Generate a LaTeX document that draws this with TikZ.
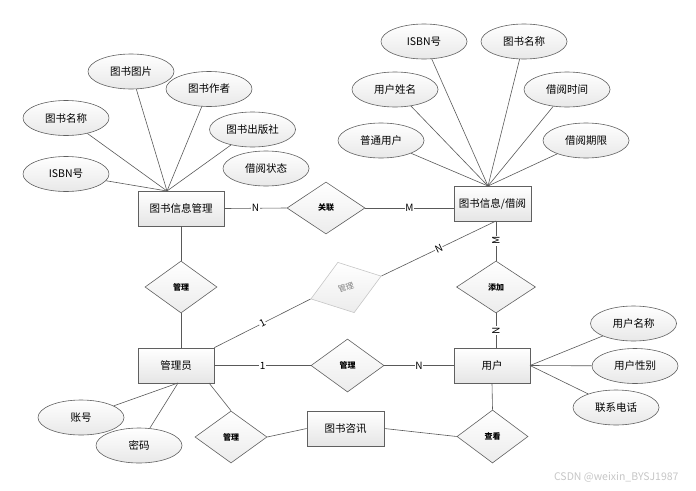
\documentclass[tikz,border=0pt]{standalone}
\usepackage{fontspec}
\setmainfont{Noto Sans CJK SC}
\usetikzlibrary{shapes.geometric,shadows}
\begin{document}
\begin{tikzpicture}[x=1pt,y=-1pt,
 ent/.style={rectangle, draw=gray!75!black, line width=0.7pt, top color=white, bottom color=gray!20, minimum width=77pt, minimum height=35pt, inner sep=0pt, font=\fontsize{10.5}{12}\selectfont, drop shadow={shadow xshift=1pt,shadow yshift=-1pt,fill=gray!45}},
 attr/.style={ellipse, draw=gray!75!black, line width=0.6pt, top color=white, bottom color=gray!18, minimum width=86pt, minimum height=35pt, inner sep=0pt, font=\fontsize{10.5}{12}\selectfont},
 rel/.style={diamond, draw=gray!75!black, line width=0.6pt, top color=white, bottom color=gray!15, minimum width=72pt, minimum height=52pt, inner sep=0pt, font=\fontsize{8}{9}\selectfont\bfseries},
 conn/.style={draw=gray!70!black, line width=0.6pt},
 card/.style={fill=white, inner sep=0.6pt, font=\fontsize{10}{11}\selectfont}
]
\path[use as bounding box] (0,0) rectangle (696,490);

% entities
\node[ent, minimum width=86pt] (gm) at (181,208.5) {图书信息管理};
\node[ent] (jy) at (492.5,203.5) {图书信息/借阅};
\node[ent, minimum width=76pt] (gly) at (176,365.5) {管理员};
\node[ent, minimum width=76pt] (yh) at (492,365.5) {用户};
\node[ent] (zx) at (345.5,428.5) {图书咨讯};

% relations
\node[rel, minimum width=78pt] (gl) at (326,208) {关联};
\node[rel] (r1) at (181,287) {管理};
\node[rel, minimum width=79pt] (tj) at (496,287) {添加};
\node[rel, minimum width=73pt, minimum height=53pt] (r2) at (347.5,365.5) {管理};
\node[rel] (r3) at (231,437) {管理};
\node[rel, minimum width=71pt, minimum height=53pt] (ck) at (492.5,436.5) {查看};
\node[rel, draw=gray!45, minimum width=74pt, minimum height=53pt, rotate=18, text=gray, font=\fontsize{8}{9}\selectfont] (r4) at (346,287.5) {管理};

% attributes
\node[attr] (a1) at (131,71.5) {图书图片};
\node[attr] (a2) at (209,89) {图书作者};
\node[attr] (a3) at (66,118) {图书名称};
\node[attr] (a4) at (252.5,129.5) {图书出版社};
\node[attr] (a5) at (66,174) {ISBN号};
\node[attr] (a6) at (266,168.5) {借阅状态};

\node[attr] (b1) at (424,41.5) {ISBN号};
\node[attr] (b2) at (524,41.5) {图书名称};
\node[attr] (b3) at (395,89.5) {用户姓名};
\node[attr] (b4) at (567,89.5) {借阅时间};
\node[attr] (b5) at (381,140.5) {普通用户};
\node[attr] (b6) at (586,140.5) {借阅期限};

\node[attr] (c1) at (81,417.5) {账号};
\node[attr] (c2) at (139,445.5) {密码};

\node[attr] (d1) at (633.5,323.5) {用户名称};
\node[attr] (d2) at (635,366) {用户性别};
\node[attr] (d3) at (616,407.5) {联系电话};

% hubs
\coordinate (h1) at (167,191);
\coordinate (h2) at (488,186);
\coordinate (h3) at (178,383);
\coordinate (h4) at (530,365.5);
\coordinate (jyb) at (496,221);
\coordinate (glyt) at (209,383);

% connectors
\foreach \n in {a1,a2,a3,a4,a5} \draw[conn] (\n) -- (h1);
\foreach \n in {b1,b2,b3,b4,b5,b6} \draw[conn] (\n) -- (h2);
\foreach \n in {c1,c2} \draw[conn] (\n) -- (h3);
\foreach \n in {d1,d2,d3} \draw[conn] (\n) -- (h4);

\draw[conn] (gm.east) -- (gl.west) node[card,midway]{N};
\draw[conn] (gl.east) -- (gl.east -| jy.west) node[card,midway]{M};
\draw[conn] (gm.south) -- (r1.north);
\draw[conn] (r1.south) -- (r1.south |- gly.north);
\draw[conn] (jyb) -- (tj.north) node[card,midway,rotate=90]{M};
\draw[conn] (tj.south) -- (tj.south |- yh.north) node[card,midway,rotate=90]{N};
\draw[conn] (jyb) -- (r4.east) node[card,midway,rotate=25]{N};
\draw[conn] (r4.west) -- (gly.north east) node[card,midway,rotate=27]{1};
\draw[conn] (gly.east) -- (r2.west) node[card,midway]{1};
\draw[conn] (r2.east) -- (yh.west) node[card,midway]{N};
\draw[conn] (glyt) -- (r3.north);
\draw[conn] (r3.east) -- (zx.west);
\draw[conn] (zx.east) -- (ck.west);
\draw[conn] (yh.south) -- (ck.north);

% watermark
\node[text=gray!45, font=\fontsize{10.5}{12}\selectfont, anchor=east] (wm) at (682,477) {CSDN @weixin\_BYSJ1987};
\end{tikzpicture}
\end{document}
